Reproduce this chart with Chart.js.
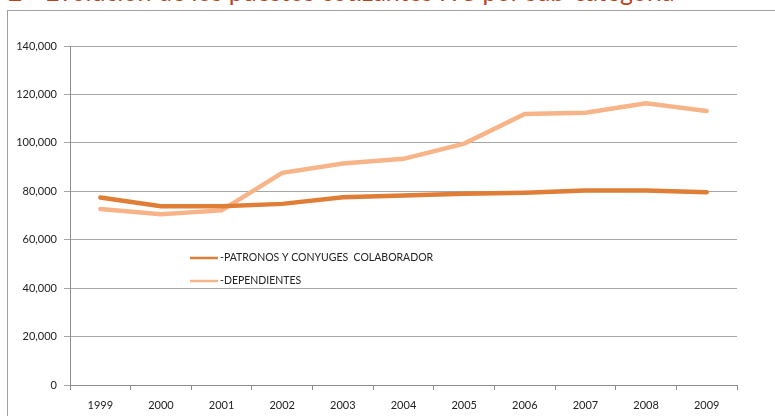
<!DOCTYPE html>
<html>
<head>
<meta charset="utf-8">
<script src="https://cdn.jsdelivr.net/npm/chart.js@4"></script>
<style>
  html, body { margin: 0; padding: 0; background: #fff; overflow: hidden; }
  #wrap { position: relative; width: 775px; height: 416px; overflow: hidden; }
  #frame { position: absolute; left: 7px; top: 10px; width: 800px; height: 420px;
           border: 1px solid #a0a0a0; box-sizing: border-box; }
  .title { position: absolute; top: -24px; font-family: Lato, "Open Sans", sans-serif;
           font-size: 25px; color: #b5461c; white-space: nowrap; }
  #chart { position: absolute; left: 0; top: 0; }
</style>
</head>
<body>
<div id="wrap">
  <div class="title" style="left:8px">2</div>
  <div class="title" style="left:45px">Evolución de los puestos cotizantes IVS por sub-categoría</div>
  <div id="frame"></div>
  <canvas id="chart" width="775" height="416"></canvas>
</div>
<script>
const years = ['1999', '2000', '2001', '2002', '2003', '2004', '2005', '2006', '2007', '2008', '2009'];
const patronos = [77400, 73800, 73800, 74800, 77500, 78300, 79000, 79400, 80300, 80300, 79600];
const dependientes = [72700, 70500, 72100, 87600, 91500, 93400, 99700, 111900, 112400, 116300, 113200];
const seriesNames = ['-PATRONOS Y CONYUGES  COLABORADOR', '-DEPENDIENTES'];

// legend drawn inside the plot, like the original
const innerLegend = {
    id: 'innerLegend',
    afterDatasetsDraw(chart) {
        const ctx = chart.ctx;
        const a = chart.chartArea;
        const x = a.left + 120;
        let y = a.top + 212;
        ctx.save();
        ctx.font = '10.5px Lato, "Open Sans", sans-serif';
        ctx.textBaseline = 'middle';
        chart.data.datasets.forEach(ds => {
            ctx.strokeStyle = ds.borderColor;
            ctx.lineWidth = 2.5;
            ctx.beginPath();
            ctx.moveTo(x, y);
            ctx.lineTo(x + 28, y);
            ctx.stroke();
            ctx.fillStyle = '#222';
            ctx.fillText(ds.label, x + 30, y);
            y += 23;
        });
        ctx.restore();
    }
};

const ctx = document.getElementById('chart').getContext('2d');
new Chart(ctx, {
    type: 'line',
    data: {
        labels: years,
        datasets: [
            { label: seriesNames[0], data: patronos, borderColor: '#e07d36', borderWidth: 4.5,
              pointRadius: 0, tension: 0, borderCapStyle: 'round' },
            { label: seriesNames[1], data: dependientes, borderColor: '#f8b489', borderWidth: 4.5,
              pointRadius: 0, tension: 0, borderCapStyle: 'round' }
        ]
    },
    options: {
        responsive: false,
        animation: false,
        layout: { padding: { top: 46, right: 38, bottom: 0, left: 0 } },
        plugins: { legend: { display: false }, tooltip: { enabled: false } },
        scales: {
            x: {
                offset: true,
                grid: { offset: true, drawOnChartArea: false, drawTicks: true, tickLength: 5, color: '#8c8c8c' },
                border: { color: '#8c8c8c' },
                ticks: { color: '#222', font: { family: 'Lato, "Open Sans", sans-serif', size: 11 }, padding: 9, maxRotation: 0 },
                afterFit: s => { s.height = 31; }
            },
            y: {
                min: 0, max: 140000,
                grid: { color: '#a6a6a6', tickLength: 6 },
                border: { color: '#8c8c8c' },
                ticks: { stepSize: 20000, color: '#222', font: { family: 'Lato, "Open Sans", sans-serif', size: 11 }, padding: 7,
                         callback: v => v.toLocaleString('en-US') },
                afterFit: s => { s.width = 70; }
            }
        }
    },
    plugins: [innerLegend]
});
</script>
</body>
</html>
